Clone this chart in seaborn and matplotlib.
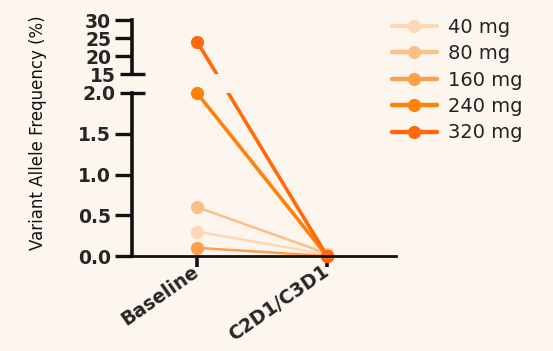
import matplotlib
matplotlib.use("Agg")
import matplotlib.pyplot as plt
import seaborn as sns
import pandas as pd
from matplotlib.patches import Rectangle

# ---- data ----
doses = ["40 mg", "80 mg", "160 mg", "240 mg", "320 mg"]
timepoints = ["Baseline", "C2D1/C3D1"]
vaf_baseline = [0.3, 0.6, 0.1, 2.0, 24.0]
vaf_followup = [0.02, 0.03, 0.0, 0.0, 0.0]
colors = ["#FDD8B6", "#FDBF88", "#FDA04E", "#FF8208", "#FF6A0C"]
widths = [1.8, 1.8, 1.8, 2.6, 2.6]
low_ticks = [0.0, 0.5, 1.0, 1.5]
low_break = 2.0
high_ticks = [20, 25, 30]
high_break = 15

sns.set_theme(style="ticks")
plt.rcParams["font.family"] = ["DejaVu Sans"]

BG = "#FDF6EE"
fig = plt.figure(figsize=(5.53, 3.51), dpi=100, facecolor=BG)
L, R = 132 / 553, 396 / 553
ax_b = fig.add_axes([L, 1 - 256 / 351, R - L, (256 - 93) / 351])
ax_t = fig.add_axes([L, 1 - 74 / 351, R - L, (74 - 20) / 351])
for ax in (ax_b, ax_t):
    ax.set_facecolor(BG)
    ax.set_xlim(-0.5, 1.53)
ax_b.set_ylim(0, low_break)
ax_t.set_ylim(high_break, 30)

xpos = list(range(len(timepoints)))

def to_other(src, dst, x, y):
    d = src.transData.transform((x, y))
    return dst.transData.inverted().transform(d)[1]

for i, dose in enumerate(doses):
    b, f = vaf_baseline[i], vaf_followup[i]
    if b > low_break:
        # straight line across the axis break
        yb = to_other(ax_t, ax_b, xpos[0], b)
        df_b = pd.DataFrame({"x": xpos, "vaf": [yb, f]})
        sns.lineplot(data=df_b, x="x", y="vaf", color=colors[i], linewidth=widths[i],
                     marker="o", markersize=9.5, markeredgewidth=0, label=dose,
                     ax=ax_b, estimator=None, sort=False)
        ln = ax_b.lines[-1]
        ln.set_clip_path(Rectangle((-0.1, -0.1), 1.3, 1.1, transform=ax_b.transAxes))
        yt = to_other(ax_b, ax_t, xpos[1], f)
        df_t = pd.DataFrame({"x": xpos, "vaf": [b, yt]})
        sns.lineplot(data=df_t, x="x", y="vaf", color=colors[i], linewidth=widths[i],
                     marker="o", markersize=9.5, markeredgewidth=0,
                     ax=ax_t, estimator=None, sort=False, legend=False)
    else:
        df_b = pd.DataFrame({"x": xpos, "vaf": [b, f]})
        sns.lineplot(data=df_b, x="x", y="vaf", color=colors[i], linewidth=widths[i],
                     marker="o", markersize=9.5, markeredgewidth=0, label=dose,
                     ax=ax_b, estimator=None, sort=False)
        ax_b.lines[-1].set_clip_on(False)

for ax in (ax_b, ax_t):
    ax.set_xlim(-0.5, 1.53)
ax_b.set_ylim(0, low_break)
ax_t.set_ylim(high_break, 30)

handles, labels = ax_b.get_legend_handles_labels()
if ax_b.get_legend() is not None:
    ax_b.get_legend().remove()

# spines
for sp in ("top", "right"):
    ax_b.spines[sp].set_visible(False)
for sp in ("top", "right", "bottom"):
    ax_t.spines[sp].set_visible(False)
for ax in (ax_b, ax_t):
    ax.spines["left"].set_linewidth(2.6)
    ax.spines["left"].set_color("#111111")
ax_b.spines["bottom"].set_linewidth(2.0)
ax_b.spines["bottom"].set_color("#111111")

ax_b.set_yticks(low_ticks, labels=[f"{v:.1f}" for v in low_ticks])
ax_b.set_yticks([low_break], labels=[f"{low_break:.1f}"], minor=True)
ax_t.set_yticks(high_ticks, labels=[str(v) for v in high_ticks])
ax_t.set_yticks([high_break], labels=[str(high_break)], minor=True)
for ax in (ax_b, ax_t):
    ax.tick_params(axis="y", which="major", direction="out", length=12, width=2.4,
                   color="#111111", labelsize=13.5, pad=3)
    ax.tick_params(axis="y", which="minor", direction="inout", length=18, width=2.4,
                   color="#111111", labelsize=13.5, pad=3)
    for t in ax.get_yticklabels(which="both"):
        t.set_fontweight("bold")
    ax.set_ylabel("")
    ax.set_xlabel("")

ax_t.set_xticks([])
ax_b.set_xticks(xpos, labels=timepoints)
ax_b.tick_params(axis="x", direction="out", length=8, width=2.6, color="#111111",
                 labelsize=13.5, pad=2)
for t in ax_b.get_xticklabels():
    t.set_fontweight("bold")
    t.set_rotation(35)
    t.set_ha("right")
    t.set_va("center")
    t.set_rotation_mode("anchor")

fig.text(38 / 553, 1 - 133 / 351, "Variant Allele Frequency (%)", rotation=90,
         ha="center", va="center", fontsize=12, color="#111111")

leg = fig.legend(handles, labels, loc="upper left", bbox_to_anchor=(384 / 553, 1 - 10 / 351),
                 frameon=False, fontsize=14, handlelength=2.3, handletextpad=0.6,
                 labelspacing=0.38, borderaxespad=0)
for t in leg.get_texts():
    t.set_color("#222222")
for h in leg.legend_handles:
    h.set_linewidth(3.2)

fig.savefig("out.png", dpi=100, facecolor=BG)
